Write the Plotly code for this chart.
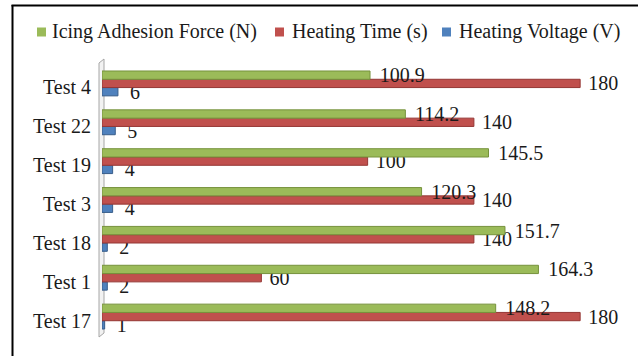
import plotly.graph_objects as go

# Test cases, listed bottom to top on the category axis
tests = ["Test 17", "Test 1", "Test 18", "Test 3", "Test 19", "Test 22", "Test 4"]
adhesion_force = [148.2, 164.3, 151.7, 120.3, 145.5, 114.2, 100.9]   # N
heating_time = [180, 60, 140, 140, 100, 140, 180]                     # s
heating_voltage = [1, 2, 2, 4, 4, 5, 6]                               # V

series_names = ["Icing Adhesion Force (N)", "Heating Time (s)", "Heating Voltage (V)"]
GREEN, RED, BLUE = "#9BBB59", "#C0504D", "#4F81BD"
GREEN_EDGE, RED_EDGE, BLUE_EDGE = "#76923C", "#943634", "#385D8A"

W, H = 638, 356
L, R, T, B = 102, 18, 64, 20
PW, PH = W - L - R, H - T - B
FONT = "Liberation Serif, Times New Roman, serif"
TEXT = "#1a1a1a"


def px_x(p):
    return (p - L) / PW


def px_y(p):
    return (H - B - p) / PH


fig = go.Figure()

# voltage first so it sits at the bottom of each group, force on top
for vals, name, col, edge, lead in [
    (heating_voltage, series_names[2], BLUE, BLUE_EDGE, "\u00a0\u2009"),
    (heating_time, series_names[1], RED, RED_EDGE, "\u00a0"),
    (adhesion_force, series_names[0], GREEN, GREEN_EDGE, "\u00a0\u200a"),
]:
    fig.add_trace(go.Bar(
        y=tests, x=vals, name=name, orientation="h",
        marker=dict(color=col, line=dict(color=edge, width=1)),
        text=vals, texttemplate=lead + "%{x}", textposition="outside",
        constraintext="none",
        textfont=dict(family=FONT, size=20, color=TEXT),
        outsidetextfont=dict(family=FONT, size=20, color=TEXT),
        cliponaxis=False, showlegend=False,
    ))

shapes = []
# thin 3-D side wall along the category axis
wall = [(99, H - B + 1), (99, T - 1), (104, T - 5), (104, H - B - 3)]
path = "M " + " L ".join(f"{px_x(x)},{px_y(y)}" for x, y in wall) + " Z"
shapes.append(dict(type="path", xref="paper", yref="paper", path=path,
                   fillcolor="#F2F2F2", line=dict(color="#A6A6A6", width=1),
                   layer="below"))

# frame lines around the chart
shapes.append(dict(type="line", xref="paper", yref="paper",
                   x0=px_x(12.5), x1=px_x(12.5), y0=px_y(5), y1=px_y(H + 5),
                   line=dict(color="black", width=2)))
shapes.append(dict(type="line", xref="paper", yref="paper",
                   x0=px_x(11.5), x1=px_x(W + 5), y0=px_y(5.5), y1=px_y(5.5),
                   line=dict(color="black", width=2)))

# legend row
annotations = []
legend_items = [
    (series_names[0], GREEN, 37, 50),
    (series_names[1], RED, 275, 290),
    (series_names[2], BLUE, 442, 457),
]
for name, col, sq_x, tx in legend_items:
    shapes.append(dict(type="rect", xref="paper", yref="paper",
                       x0=px_x(sq_x), x1=px_x(sq_x + 9),
                       y0=px_y(36.5), y1=px_y(27.5),
                       fillcolor=col, line=dict(width=0)))
    annotations.append(dict(xref="paper", yref="paper", x=px_x(tx), y=px_y(32),
                            xanchor="left", yanchor="middle", showarrow=False,
                            text=name, font=dict(family=FONT, size=20, color=TEXT)))

fig.update_layout(
    width=W, height=H,
    margin=dict(l=L, r=R, t=T, b=B),
    paper_bgcolor="white", plot_bgcolor="white",
    barmode="group", bargap=0.36, bargroupgap=0,
    font=dict(family=FONT, size=20, color=TEXT),
    xaxis=dict(range=[0, 195], showgrid=False, zeroline=False,
               showticklabels=False, showline=False, fixedrange=True),
    yaxis=dict(categoryorder="array", categoryarray=tests, showgrid=False,
               zeroline=False, showline=False, ticks="", ticklabelstandoff=10,
               ticklabelshift=4,
               tickfont=dict(family=FONT, size=20, color=TEXT)),
    shapes=shapes, annotations=annotations,
)

fig.write_html("out.html")
